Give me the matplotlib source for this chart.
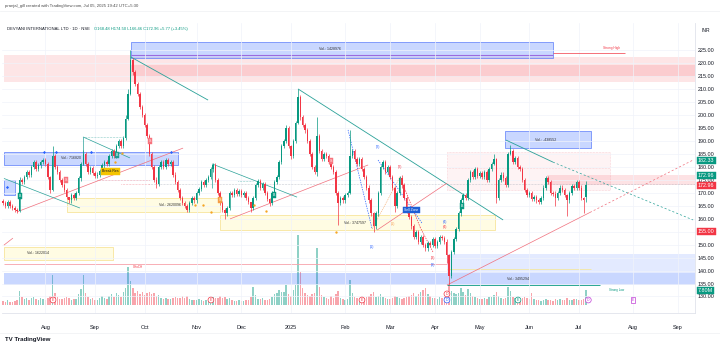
import numpy as np
import pandas as pd
import matplotlib
matplotlib.use("Agg")
import matplotlib.pyplot as plt
from matplotlib.patches import Rectangle

plt.rcParams['font.family'] = ['Liberation Sans', 'DejaVu Sans']

# ---------------- data ----------------
closes = [
    166.0, 165.0, 166.5, 165.0, 164.0, 163.5, 162.8, 175.0, 174.0, 176.0,
    178.0, 177.0, 180.0, 181.8, 179.0, 180.5, 182.0, 182.5, 181.0, 176.0,
    171.0, 184.0, 180.0, 178.0, 175.0, 173.0, 171.0, 168.5, 167.0, 169.0,
    168.0, 170.0, 175.5, 181.0, 185.0, 181.0, 178.0, 179.5, 177.5, 176.5,
    177.0, 178.5, 180.5, 182.0, 181.0, 184.0, 186.0, 184.0, 188.0, 190.0,
    188.0, 191.0, 198.5, 208.0, 221.0, 216.5, 212.0, 208.0, 203.0, 200.0,
    196.0, 192.0, 185.0, 180.0, 175.0, 173.5, 180.0, 182.0, 180.0, 182.5,
    181.0, 182.0, 177.0, 174.0, 171.0, 168.0, 166.0, 165.0, 163.5, 166.0,
    168.0, 167.0, 170.0, 171.5, 174.0, 173.0, 175.0, 176.0, 179.0, 180.5,
    175.0, 170.0, 166.0, 163.5, 162.0, 164.0, 170.0, 169.0, 171.0, 169.5,
    170.5, 169.0, 170.0, 168.0, 166.5, 164.0, 168.0, 173.0, 174.5, 172.0,
    173.5, 170.0, 167.5, 166.0, 170.0, 174.0, 176.0, 182.0, 188.0, 190.0,
    195.0, 188.0, 184.0, 190.0, 197.0, 207.0, 199.0, 196.0, 194.0, 190.0,
    185.0, 180.0, 178.0, 192.0, 186.0, 183.0, 185.0, 184.0, 182.0, 180.0,
    178.0, 170.0, 166.0, 168.0, 167.0, 169.0, 170.0, 184.0, 186.0, 183.0,
    181.0, 183.0, 179.0, 176.0, 172.0, 167.0, 162.0, 157.0, 162.0, 170.0,
    180.0, 182.0, 178.0, 180.0, 176.0, 172.0, 165.0, 170.0, 175.5, 173.0,
    168.0, 163.0, 160.5, 157.0, 153.0, 155.0, 151.0, 153.0, 150.0, 148.5,
    150.5, 150.0, 152.0, 149.5, 151.0, 153.0, 152.5, 151.0, 146.0, 138.0,
    147.0, 152.0, 156.0, 162.0, 167.0, 169.0, 168.0, 175.0, 178.0, 176.0,
    179.0, 176.5, 177.5, 176.0, 178.0, 175.0, 179.0, 181.0, 183.0, 168.0,
    175.0, 177.0, 175.5, 173.0, 185.0, 186.0, 182.0, 183.5, 180.0, 179.0,
    175.0, 171.0, 169.0, 170.0, 167.5, 168.5, 167.0, 166.5, 168.0, 172.0,
    175.5, 174.0, 170.0, 169.5, 168.0, 170.0, 172.0, 171.0, 169.0, 167.0,
    170.0, 172.5, 172.0, 174.0, 172.0, 168.0, 167.19, 172.96,
]
first_open = 166.8
last_open = 168.48

# notable wicks: bar -> (high, low)
wicks = {
    7: (176.0, 162.5), 20: (176.5, 170.0), 21: (188.0, 170.5), 28: (168.5, 166.0),
    34: (186.5, 180.5), 52: (200.0, 190.5), 53: (210.0, 198.0), 54: (225.0, 207.5),
    55: (222.0, 215.5), 62: (192.5, 184.0), 65: (176.0, 172.0), 78: (165.5, 162.5),
    89: (181.5, 178.0), 94: (164.0, 160.0), 105: (166.5, 162.5), 113: (168.0, 165.0),
    120: (196.0, 189.0), 122: (188.5, 183.0), 125: (210.0, 196.5), 133: (199.0, 176.5),
    142: (170.5, 157.5), 147: (194.0, 169.5), 157: (162.5, 155.0), 166: (172.5, 162.5),
    169: (177.0, 172.0), 188: (152.0, 143.0), 189: (146.5, 134.3), 208: (185.0, 180.5),
    209: (183.5, 166.0), 215: (188.5, 184.5), 234: (170.5, 165.0), 239: (169.5, 161.0),
    246: (168.5, 162.0), 247: (174.5, 166.4),
}

volumes_m = [
    2.0, 1.6, 2.4, 1.8, 1.5, 2.2, 2.6, 7.3, 4.0, 3.2,
    3.5, 2.8, 3.9, 4.4, 3.0, 2.5, 3.6, 3.1, 2.4, 3.8,
    4.6, 15.6, 6.2, 4.1, 3.3, 3.0, 3.8, 4.2, 3.5, 2.6,
    2.9, 3.1, 5.8, 8.4, 15.6, 6.5, 4.0, 3.2, 3.6, 2.8,
    2.5, 3.4, 4.6, 3.9, 3.0, 4.8, 5.5, 4.1, 6.0, 5.2,
    4.4, 7.0, 8.9, 19.8, 12.5, 8.8, 6.4, 7.1, 5.9, 6.6,
    5.2, 6.3, 7.0, 5.5, 6.1, 4.7, 5.0, 3.6, 3.2, 3.8,
    2.9, 3.0, 3.4, 4.1, 3.7, 3.9, 4.5, 3.6, 4.9, 3.3,
    2.8, 2.6, 2.4, 3.0, 2.7, 2.2, 2.5, 2.9, 3.4, 4.2,
    3.8, 3.5, 4.6, 3.9, 4.2, 3.1, 3.6, 2.6, 2.3, 2.1,
    2.5, 2.0, 2.2, 2.7, 2.4, 4.0, 9.4, 5.1, 3.2, 2.9,
    3.6, 2.5, 2.8, 3.3, 4.4, 5.6, 6.3, 7.8, 6.7, 6.9,
    10.4, 5.8, 4.9, 8.0, 10.5, 36.4, 17.2, 8.6, 6.0, 5.2,
    4.7, 5.5, 6.1, 29.7, 9.6, 5.4, 4.0, 3.6, 3.3, 4.5,
    3.8, 5.9, 7.2, 3.6, 2.9, 2.7, 3.2, 13.0, 6.2, 4.0,
    3.4, 3.0, 2.8, 3.7, 4.2, 4.8, 5.6, 6.6, 4.1, 4.9,
    5.9, 4.3, 3.5, 3.1, 3.0, 3.6, 4.7, 4.0, 3.6, 3.1,
    3.4, 4.0, 4.6, 5.4, 6.2, 4.5, 5.8, 6.8, 7.8, 9.0,
    5.5, 4.6, 3.9, 3.5, 3.3, 4.1, 3.6, 4.4, 7.0, 10.4,
    7.3, 6.2, 5.8, 6.5, 8.9, 7.0, 5.0, 8.4, 6.0, 4.8,
    4.2, 3.6, 3.3, 3.0, 3.5, 3.1, 4.0, 4.4, 5.3, 6.8,
    4.6, 3.9, 3.1, 3.4, 9.4, 7.3, 4.2, 3.5, 3.0, 2.7,
    3.6, 4.2, 3.5, 2.9, 6.2, 3.3, 2.6, 2.4, 2.1, 2.8,
    3.2, 2.5, 2.8, 2.3, 3.0, 2.6, 2.9, 2.4, 2.7, 3.4,
    2.6, 2.5, 3.1, 2.9, 2.4, 2.7, 3.2, 7.8,
]

price_ticks = list(range(130, 226, 5))
holidays = ["2024-08-15", "2024-10-02", "2024-11-15", "2024-11-20", "2024-12-25",
            "2025-02-26", "2025-03-14", "2025-03-31", "2025-04-10", "2025-04-14",
            "2025-04-18", "2025-05-01", "2025-08-15", "2025-08-27"]

# ---------------- time axis (bar index) ----------------
all_days = pd.bdate_range("2024-07-08", "2025-10-31")
all_days = all_days[~all_days.isin(pd.to_datetime(holidays))]
n = len(closes)
month_idx, month_lab = [], []
prev = None
for i, d in enumerate(all_days):
    key = (d.year, d.month)
    if key != prev and i > 0:
        if (2024, 8) <= key <= (2025, 9):
            month_idx.append(i)
            month_lab.append("2025" if key == (2025, 1) else d.strftime("%b"))
    prev = key

c = np.array(closes)
o = np.array([first_open] + closes[:-1])
o[-1] = last_open
h = np.maximum(o, c) + 0.8
l = np.minimum(o, c) - 0.8
for k, (hh, ll) in wicks.items():
    h[k], l[k] = hh, ll
idx = np.arange(n)
UP, DN = "#089981", "#f23645"
up = c >= o
cols = np.where(up, UP, DN)

# ---------------- figure ----------------
W, H = 720, 346
fig = plt.figure(figsize=(7.2, 3.46), dpi=100)
rect = [2 / W, 1 - 313 / H, 693 / W, 290 / H]
vax = fig.add_axes(rect)
ax = fig.add_axes(rect, sharex=vax)
vax.set_zorder(0)
ax.set_zorder(1)
ax.patch.set_alpha(0)

X0, X1 = -0.42, 293.2
P_TOP, P_BOT = 235.41, 123.64
ax.set_xlim(X0, X1)
ax.set_ylim(P_BOT, P_TOP)
vax.set_ylim(-4.17, 146.9)
vax.axis("off")

# volume
vcols = np.where(up, "#8fd1c6", "#f8a5ac")
vax.bar(idx, volumes_m, width=0.62, color=vcols, linewidth=0)

# grid and axes styling
ax.set_yticks(price_ticks)
ax.set_yticklabels([f"{v:.2f}" for v in price_ticks])
ax.yaxis.tick_right()
ax.set_xticks(month_idx)
ax.set_xticklabels(month_lab)
ax.tick_params(axis="y", length=0, pad=2.2, labelsize=3.9, labelcolor="#131722")
ax.tick_params(axis="x", length=0, pad=8.5, labelsize=4.0, labelcolor="#131722")
ax.grid(True, color="#f0f3fa", lw=0.5, zorder=0)
for s in ["top", "left"]:
    ax.spines[s].set_visible(False)
ax.spines["right"].set_color("#e0e3eb")
ax.spines["bottom"].set_color("#e0e3eb")
ax.spines["right"].set_linewidth(0.6)
ax.spines["bottom"].set_linewidth(0.6)


def box(b0, b1, p0, p1, fc, ec="none", lw=0.5, ls="-", z=1.0):
    ax.add_patch(Rectangle((b0, p0), b1 - b0, p1 - p0, facecolor=fc, edgecolor=ec,
                           lw=lw, ls=ls, zorder=z))


def seg(b0, p0, b1, p1, color, lw=0.5, ls="-", z=2.0):
    ax.plot([b0, b1], [p0, p1], color=color, lw=lw, ls=ls, zorder=z, solid_capstyle="butt")


def txt(b, p, s, color="#333333", size=2.8, ha="center", **kw):
    ax.text(b, p, s, color=color, fontsize=size, ha=ha, va="center", zorder=6, **kw)


BLUE_F = (41 / 255, 98 / 255, 1.0, 0.25)
BLUE_L = (41 / 255, 98 / 255, 1.0, 0.13)
PINK_F = (242 / 255, 54 / 255, 69 / 255, 0.13)
PINK_D = (242 / 255, 54 / 255, 69 / 255, 0.14)
YEL_F = (1.0, 0.92, 0.23, 0.14)
TEAL = "#2aa198"
PINK = "#f06f7c"

# top zones
box(0.4, 54.2, 212.7, 223.1, PINK_F)
box(54.2, 293.2, 212.7, 222.3, PINK_F)
box(54.2, 293.2, 214.6, 219.2, PINK_D)
box(54.2, 233.0, 221.9, 228.1, BLUE_F, ec="#5b7cfa", lw=0.5)
seg(54.2, 223.1, 233.0, 223.1, "#9c6ade", lw=0.8, z=1.5)
txt(138.6, 225.3, "Vol.: 1428976", size=2.6)
seg(233.0, 223.8, 263.5, 223.8, "#f23645", lw=0.5)
txt(258.0, 225.6, "Strong High", color="#f23645", size=2.3)

# left zones
box(0.4, 74.0, 180.7, 185.7, BLUE_F, ec="#5b7cfa", lw=0.5)
txt(29.0, 183.2, "Vol.: 716820", size=2.6)
box(0.4, 5.1, 169.1, 174.9, BLUE_F, ec="#5b7cfa", lw=0.5)
box(27.0, 92.0, 162.6, 168.0, YEL_F, ec="#f5e08a", lw=0.5)
txt(70.8, 165.3, "Vol.: 2620096", size=2.6)
box(92.0, 208.5, 155.6, 161.4, YEL_F, ec="#f5e08a", lw=0.5)
txt(149.0, 158.3, "Vol.: 3747597", size=2.6)
box(0.4, 46.6, 144.1, 149.1, YEL_F, ec="#f5e08a", lw=0.5)
txt(10.0, 146.6, "Vol.: 1622014", size=2.6, ha="left")

# bottom zones
seg(0.4, 142.5, 188.0, 142.5, "#f7a1a9", lw=0.6, z=1.5)
txt(57.0, 141.2, "CHoCH", color="#f23645", size=2.2)
box(0.4, 188.0, 134.4, 139.1, BLUE_F)
box(188.0, 293.2, 139.1, 146.4, BLUE_L)
box(188.0, 293.2, 134.4, 139.1, BLUE_F)
seg(188.0, 140.6, 249.0, 140.6, "#f3e7a0", lw=0.6, z=1.5)
seg(188.0, 134.4, 253.0, 134.4, "#089981", lw=0.6, z=1.5)
txt(218.0, 136.7, "Vol.: 3495294", size=2.6)
txt(260.0, 132.4, "Strong Low", color="#089981", size=2.2)

# right zones
box(212.7, 249.2, 187.2, 193.8, BLUE_F, ec="#5b7cfa", lw=0.5)
txt(229.7, 190.5, "Vol.: -438552", size=2.6)
box(188.0, 257.0, 171.0, 185.7, (242 / 255, 54 / 255, 69 / 255, 0.06), ec="#f7b7bd", lw=0.4, ls=":")
box(230.5, 293.2, 173.0, 176.8, PINK_D)
seg(188.0, 179.5, 257.0, 179.5, "#f7b7bd", lw=0.4, ls=":")
seg(62.0, 173.3, 293.2, 173.3, "#9aa0ad", lw=0.4, ls=":", z=1.6)
seg(40.0, 174.9, 62.3, 174.9, "#f06f7c", lw=0.4, ls=":")
seg(50.0, 173.4, 62.3, 173.4, "#f06f7c", lw=0.4, ls=":")

# trend lines
seg(54.2, 222.3, 86.9, 205.7, TEAL, lw=0.6)
seg(125.0, 210.0, 211.9, 159.5, TEAL, lw=0.6)
seg(213.1, 190.3, 233.0, 181.8, TEAL, lw=0.6)
seg(233.0, 181.8, 292.4, 159.5, TEAL, lw=0.5, ls=(0, (3, 3)))
seg(188.1, 134.4, 248.7, 162.4, PINK, lw=0.5)
seg(248.7, 162.4, 292.4, 182.6, PINK, lw=0.5, ls=(0, (3, 3)))
seg(5.9, 162.6, 76.3, 187.2, PINK, lw=0.5)
seg(96.2, 159.9, 154.7, 180.7, PINK, lw=0.5)
seg(158.5, 155.6, 188.1, 173.7, PINK, lw=0.5)
seg(0.4, 149.8, 4.2, 152.5, PINK, lw=0.5)
seg(0.4, 175.5, 32.6, 164.1, TEAL, lw=0.5)
seg(33.9, 191.5, 53.8, 183.4, TEAL, lw=0.5)
seg(33.9, 191.5, 50.4, 191.5, TEAL, lw=0.4, ls=":")
seg(33.9, 191.5, 33.9, 180.7, TEAL, lw=0.5)
seg(88.6, 181.1, 124.6, 168.3, TEAL, lw=0.5)
seg(88.6, 181.1, 88.6, 171.9, TEAL, lw=0.5)
seg(99.5, 174.5, 106.0, 174.5, TEAL, lw=0.4, ls=":")
seg(146.2, 194.2, 156.4, 156.0, "#2962ff", lw=0.5, ls=(0, (2, 1.5)))
seg(158.9, 182.6, 177.5, 158.3, "#2962ff", lw=0.5, ls=(0, (2, 1.5)))
seg(168.2, 176.1, 176.7, 156.8, "#f23645", lw=0.5, ls=(0, (2, 1.5)))
seg(176.7, 156.8, 182.2, 147.1, "#f23645", lw=0.5, ls=(0, (2, 1.5)))
seg(156.4, 156.0, 168.2, 176.1, "#f5a05a", lw=0.4, ls=(0, (2, 1.5)))

# candles
ax.vlines(idx, l, h, colors=cols, lw=0.5, zorder=3)
ax.bar(idx, np.maximum(np.abs(c - o), 0.25), bottom=np.minimum(o, c), width=0.62,
       color=cols, linewidth=0, zorder=3.1)

# markers
for b in (17.4, 22.5, 37.3, 71.2, 1.7):
    ax.plot(b, 185.7 if b > 2 else 172.2, marker="D", ms=1.6, color="#2962ff", zorder=5, mec="none")
for b, p in [(47.5, 181.8), (50.4, 185.3), (81.4, 165.3), (84.7, 165.3), (88.1, 162.6),
             (106.4, 165.3), (111.4, 163.0), (141.1, 154.9)]:
    ax.plot(b, p, marker="o", ms=1.7, color="#f5a623", zorder=5, mec="none")


def tag(b, p, s, fc, tc="white", size=2.6, pad=0.25):
    ax.text(b, p, s, color=tc, fontsize=size, ha="center", va="center", zorder=7,
            bbox=dict(boxstyle=f"square,pad={pad}", fc=fc, ec=fc, lw=0.3))


tag(7.2, 168.7, "B", UP)
tag(48.3, 184.5, "B", "#1e9c93")
tag(26.7, 175.0, "S", "#f7737d")
tag(62.3, 190.0, "S", "#f7737d")
tag(92.0, 167.2, "S", "#f59c45")
tag(114.8, 169.0, "B", UP)
tag(139.0, 182.2, "S", "#f7737d")
tag(194.5, 164.9, "B", UP)
tag(45.5, 178.2, "Break Res", "#f5c400", tc="#131722", size=2.5, pad=0.35)
tag(173.0, 163.3, "Sell Zone", "#1f5fd6", size=2.4, pad=0.35)

# Elliott wave labels
for b, p, s, col in [(159.0, 187.6, "(2)", "#2962ff"), (156.4, 149.1, "(1)", "#2962ff"),
                     (168.2, 179.9, "(2)", "#f23645"), (165.3, 158.0, "(1)", "#f5a05a"),
                     (182.2, 144.8, "(3)", "#f23645"), (182.2, 142.1, "(3)", "#2962ff"),
                     (187.3, 158.7, "(4)", "#2962ff"), (187.3, 156.6, "(4)", "#f23645")]:
    txt(b, p, s, color=col, size=2.6)

# event markers (volume pane)
P_EV = 128.65
for b, s, col in [(21.2, "E", "#f23645"), (88.1, "E", "#f23645"), (152.1, "E", "#f23645"),
                  (188.1, "D", "#2962ff"), (218.2, "E", "#089981"), (248.0, "D", "#c13fd6")]:
    ax.text(b, P_EV, s, color=col, fontsize=2.6, ha="center", va="center", zorder=7,
            bbox=dict(boxstyle="circle,pad=0.25", fc="white", ec=col, lw=0.5))
ax.text(188.1, 131.0, "D", color="#f23645", fontsize=2.6, ha="center", va="center", zorder=7,
        bbox=dict(boxstyle="circle,pad=0.25", fc="white", ec="#f23645", lw=0.5))
ax.text(267.0, P_EV, "E", color="#c13fd6", fontsize=2.6, ha="center", va="center", zorder=7,
        bbox=dict(boxstyle="square,pad=0.3", fc="white", ec="#c13fd6", lw=0.5))

# price tags on the scale
for p, s, fc in [(182.33, "182.33", UP), (176.7, "172.96", UP), (172.96, "172.96", DN),
                 (155.0, "155.00", DN), (132.3, "7.80M", UP)]:
    ax.annotate(s, xy=(1.0, p), xycoords=("axes fraction", "data"), xytext=(2.2, 0),
                textcoords="offset points", color="white", fontsize=3.9, va="center",
                ha="left", annotation_clip=False, zorder=8,
                bbox=dict(boxstyle="square,pad=0.18", fc=fc, ec=fc, lw=0.3))

# header and footer


def ft(x, y, s, **kw):
    return fig.text(x / W, 1 - y / H, s, va="center", **kw)


ft(5, 6, "pranjal_gill created with TradingView.com, Jul 05, 2025 19:42 UTC+5:30",
   fontsize=3.1, color="#4a4a4a")
t_title = ft(7, 29, "DEVYANI INTERNATIONAL LTD · 1D · NSE", fontsize=3.0, color="#131722")
renderer = fig.canvas.get_renderer()
x_end = t_title.get_window_extent(renderer).x1
ft(x_end + 4, 29, "O168.48 H174.50 L166.46 C172.96 +5.77 (+3.45%)", fontsize=3.0, color=UP)
ft(701, 30, "INR", fontsize=3.6, color="#131722")
ft(5, 339, "TV TradingView", fontsize=4.4, color="#131722", fontweight="bold")
fig.add_artist(plt.Line2D([0, 1], [1 - 11 / H, 1 - 11 / H], color="#eef0f3", lw=0.5))
fig.add_artist(plt.Line2D([0, 1], [1 - 333 / H, 1 - 333 / H], color="#eef0f3", lw=0.5))

fig.savefig("out.png", dpi=100)
